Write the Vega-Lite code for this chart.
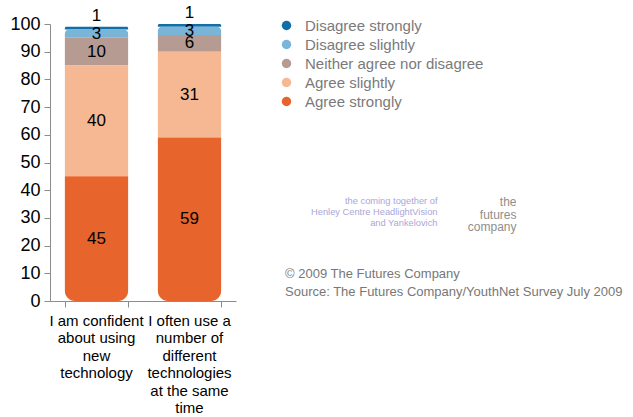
{
  "$schema": "https://vega.github.io/schema/vega-lite/v6.json",
  "width": 186,
  "height": 277,
  "autosize": {"type": "none"},
  "padding": {"left": 50, "top": 24, "right": 397, "bottom": 116},
  "background": "white",
  "config": {"font": "Liberation Sans", "view": {"stroke": null}},
  "title": {
    "text": ["© 2009 The Futures Company", "Source: The Futures Company/YouthNet Survey July 2009"],
    "anchor": "start",
    "frame": "group",
    "orient": "top",
    "dx": 235,
    "dy": 299,
    "fontSize": 13,
    "fontWeight": "normal",
    "color": "#777777",
    "lineHeight": 18
  },
  "data": {
    "values": [
      {"statement": "I am confident about using new technology", "response": "Disagree strongly", "level": 1, "value": 1},
      {"statement": "I am confident about using new technology", "response": "Disagree slightly", "level": 2, "value": 3},
      {"statement": "I am confident about using new technology", "response": "Neither agree nor disagree", "level": 3, "value": 10},
      {"statement": "I am confident about using new technology", "response": "Agree slightly", "level": 4, "value": 40},
      {"statement": "I am confident about using new technology", "response": "Agree strongly", "level": 5, "value": 45},
      {"statement": "I often use a number of different technologies at the same time", "response": "Disagree strongly", "level": 1, "value": 1},
      {"statement": "I often use a number of different technologies at the same time", "response": "Disagree slightly", "level": 2, "value": 3},
      {"statement": "I often use a number of different technologies at the same time", "response": "Neither agree nor disagree", "level": 3, "value": 6},
      {"statement": "I often use a number of different technologies at the same time", "response": "Agree slightly", "level": 4, "value": 31},
      {"statement": "I often use a number of different technologies at the same time", "response": "Agree strongly", "level": 5, "value": 59}
    ]
  },
  "transform": [
    {"stack": "value", "groupby": ["statement"], "sort": [{"field": "level", "order": "descending"}], "as": ["y0", "y1"]},
    {"calculate": "(datum.y0 + datum.y1) / 2", "as": "mid"}
  ],
  "resolve": {"axis": {"x": "independent"}},
  "layer": [
    {
      "mark": {
        "type": "bar",
        "cornerRadiusTopLeft": {"expr": "datum.level <= 2 ? 7 : 0"},
        "cornerRadiusTopRight": {"expr": "datum.level <= 2 ? 7 : 0"},
        "cornerRadiusBottomLeft": {"expr": "datum.level == 5 ? 10 : 0"},
        "cornerRadiusBottomRight": {"expr": "datum.level == 5 ? 10 : 0"}
      },
      "encoding": {
        "x": {
          "field": "statement",
          "type": "nominal",
          "sort": null,
          "scale": {"paddingInner": 0.32, "paddingOuter": 0.16},
          "axis": {
            "orient": "bottom",
            "title": ["the", "futures", "company"],
            "titleX": 466,
            "titleY": -104.5,
            "titleAlign": "right",
            "titleAnchor": null,
            "titleBaseline": "top",
            "titleFontSize": 12,
            "titleFontWeight": "normal",
            "titleColor": "#8e8e8e",
            "titleLineHeight": 12.5,
            "labels": false,
            "tickBand": "extent",
            "tickSize": 6,
            "tickColor": "#8c8c8c",
            "domainColor": "#8c8c8c"
          }
        },
        "y": {
          "field": "y0",
          "type": "quantitative",
          "scale": {"domain": [0, 100], "nice": false},
          "axis": {
            "title": null,
            "values": [0, 10, 20, 30, 40, 50, 60, 70, 80, 90, 100],
            "grid": false,
            "labelOverlap": false,
            "labelFlush": false,
            "labelFontSize": 18,
            "labelColor": "#000000",
            "labelPadding": 4,
            "tickSize": 6,
            "tickColor": "#8c8c8c",
            "domainColor": "#8c8c8c"
          }
        },
        "y2": {"field": "y1"},
        "color": {
          "field": "response",
          "type": "nominal",
          "scale": {
            "domain": ["Disagree strongly", "Disagree slightly", "Neither agree nor disagree", "Agree slightly", "Agree strongly"],
            "range": ["#106fa8", "#7ab5d8", "#b59b92", "#f6b793", "#e8642d"]
          },
          "legend": {
            "title": null,
            "orient": "none",
            "legendX": 229,
            "legendY": -6,
            "padding": 0,
            "symbolType": "circle",
            "symbolSize": 90,
            "symbolStrokeWidth": 0,
            "labelFontSize": 15,
            "labelColor": "#7a7a7a",
            "labelOffset": 11,
            "rowPadding": 3,
            "labelLimit": 0
          }
        }
      }
    },
    {
      "mark": {
        "type": "text",
        "fontSize": 17,
        "color": "#000000",
        "baseline": "middle",
        "dy": {"expr": "datum.level == 1 ? -12 : 0"}
      },
      "encoding": {
        "x": {
          "field": "statement",
          "type": "nominal",
          "sort": null,
          "axis": {
            "orient": "bottom",
            "title": ["the coming together of", "Henley Centre HeadlightVision", "and Yankelovich"],
            "titleX": 387,
            "titleY": -104.5,
            "titleAlign": "right",
            "titleAnchor": null,
            "titleBaseline": "top",
            "titleFontSize": 9.3,
            "titleFontWeight": "normal",
            "titleColor": "#aaa6d9",
            "titleLineHeight": 11,
            "ticks": false,
            "domain": false,
            "labelAngle": 0,
            "labelFontSize": 15,
            "labelColor": "#000000",
            "labelLineHeight": 17.5,
            "labelPadding": 12,
            "labelBaseline": "top",
            "labelLimit": 0,
            "labelExpr": "indexof(datum.label, 'confident') >= 0 ? ['I am confident', 'about using', 'new', 'technology'] : ['I often use a', 'number of', 'different', 'technologies', 'at the same', 'time']"
          }
        },
        "y": {
          "field": "mid",
          "type": "quantitative",
          "axis": {
            "title": null,
            "values": [0, 10, 20, 30, 40, 50, 60, 70, 80, 90, 100],
            "grid": false,
            "labelOverlap": false,
            "labelFlush": false,
            "labelFontSize": 18,
            "labelColor": "#000000",
            "labelPadding": 4,
            "tickSize": 6,
            "tickColor": "#8c8c8c",
            "domainColor": "#8c8c8c"
          }
        },
        "text": {"field": "value", "type": "quantitative"}
      }
    }
  ]
}
